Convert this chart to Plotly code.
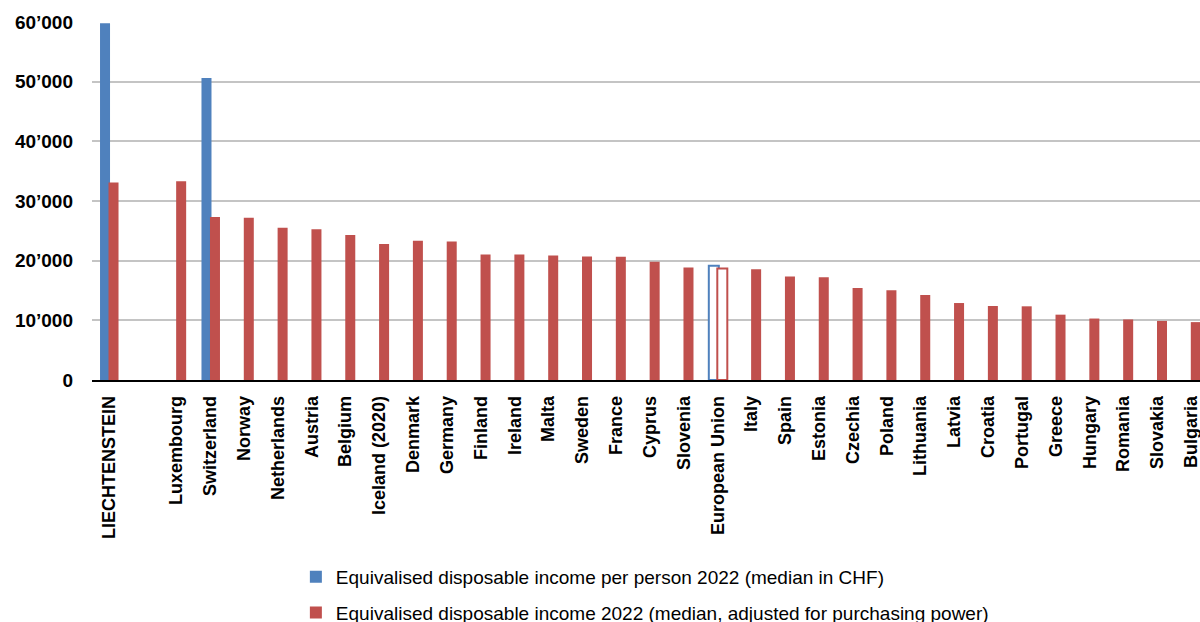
import plotly.graph_objects as go

# Country order along the x axis (" " is an empty spacer slot)
countries = [
    "LIECHTENSTEIN", " ", "Luxembourg", "Switzerland", "Norway", "Netherlands",
    "Austria", "Belgium", "Iceland (2020)", "Denmark", "Germany", "Finland",
    "Ireland", "Malta", "Sweden", "France", "Cyprus", "Slovenia",
    "European Union", "Italy", "Spain", "Estonia", "Czechia", "Poland",
    "Lithuania", "Latvia", "Croatia", "Portugal", "Greece", "Hungary",
    "Romania", "Slovakia", "Bulgaria",
]

# Median equivalised disposable income per person 2022, in CHF
income_chf = [
    59800, None, None, 50600, None, None,
    None, None, None, None, None, None,
    None, None, None, None, None, None,
    19150, None, None, None, None, None,
    None, None, None, None, None, None,
    None, None, None,
]

# Median equivalised disposable income 2022, adjusted for purchasing power
income_pps = [
    33100, None, 33300, 27300, 27200, 25500,
    25250, 24300, 22800, 23350, 23200, 21050,
    21050, 20850, 20700, 20650, 19800, 18850,
    18700, 18550, 17350, 17200, 15400, 15050,
    14250, 12900, 12400, 12350, 10950, 10300,
    10150, 9900, 9700,
]

y_tick_values = [0, 10000, 20000, 30000, 40000, 50000, 60000]
y_tick_labels = ["0", "10’000", "20’000", "30’000", "40’000", "50’000", "60’000"]

legend_names = [
    "Equivalised disposable income per person 2022 (median in CHF)",
    "Equivalised disposable income 2022 (median, adjusted for purchasing power)",
]

BLUE = "#4f81bd"
RED = "#c0504d"
HOLLOW = "European Union"


def styles(base):
    fills = ["white" if c == HOLLOW else base for c in countries]
    widths = [2 if c == HOLLOW else 0 for c in countries]
    return fills, widths


blue_fill, blue_lw = styles(BLUE)
red_fill, red_lw = styles(RED)

fig = go.Figure()
fig.add_trace(go.Bar(
    x=countries, y=income_chf, name=legend_names[0],
    marker=dict(color=blue_fill, line=dict(color=BLUE, width=blue_lw)),
    offset=-0.263, width=0.296, legendgroup="a",
))
fig.add_trace(go.Bar(
    x=countries, y=income_pps, name=legend_names[1],
    marker=dict(color=red_fill, line=dict(color=RED, width=red_lw)),
    offset=-0.012, width=0.296, legendgroup="b",
))

base_font = "Liberation Sans, Arial, sans-serif"

fig.update_layout(
    width=1200, height=622,
    margin=dict(l=92, r=0, t=22, b=242, autoexpand=False),
    paper_bgcolor="white", plot_bgcolor="white",
    barmode="overlay",
    font=dict(family=base_font, color="black"),
    showlegend=True,
    legend=dict(
        orientation="v", x=0.184, xanchor="left", y=-0.497, yanchor="top",
        font=dict(size=19, family=base_font, color="black"),
        tracegroupgap=8, bgcolor="rgba(0,0,0,0)",
    ),
    xaxis=dict(
        type="category", categoryorder="array", categoryarray=countries,
        range=[-0.5, 32.26], tickangle=-90,
        tickfont=dict(size=18, family=base_font, color="black", weight="bold"),
        showgrid=False, showline=True, linecolor="black", linewidth=1.5,
        ticks="", ticklabelstandoff=7,
    ),
    yaxis=dict(
        range=[0, 60000], tickvals=y_tick_values, ticktext=y_tick_labels,
        tickfont=dict(size=19, family=base_font, color="black", weight="bold"),
        showgrid=True, gridcolor="#c4c4c4", gridwidth=1.5,
        zeroline=False, showline=False, ticks="", ticklabelstandoff=18,
    ),
)

fig.write_html("out.html")
